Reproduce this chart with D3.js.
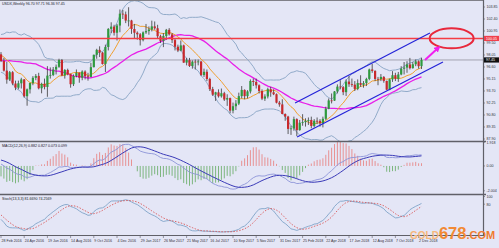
<!DOCTYPE html>
<html>
<head>
<meta charset="utf-8">
<script src="https://cdn.jsdelivr.net/npm/d3@7"></script>
<style>
body { margin: 0; background: #e4e6f6; }
svg { display: block; font-family: "Liberation Sans", Arial, sans-serif; }
</style>
</head>
<body>
<div id="chart"></div>
<script>
// Dimensions of the chart.
var width = 499;
var height = 248;
var plotRight = 483;

// Weekly USDX closes before the first visible bar (only used to warm up indicators).
var priorCloses = [96.0, 96.0, 97.9, 97.2, 97.3, 97.6, 96.6, 94.9, 95.9, 96.2, 95.2, 95.0, 96.1, 96.1,
  95.3, 94.7, 96.9, 96.9, 99.3, 99.0, 99.6, 100.0, 98.4, 97.6, 99.0, 97.9, 98.6, 98.5, 99.0, 99.6,
  99.6, 97.0, 96.0, 96.6, 98.13];

// Visible weekly bars, week of 28 Feb 2016 to week of 9 Dec 2018.
var closes = [97.33, 96.16, 95.08, 95.97, 94.60, 94.10, 94.63, 95.10, 93.07, 93.90,
  94.66, 95.29, 95.52, 94.03, 94.56, 94.19, 95.56, 95.64, 96.29, 96.62,
  97.44, 95.58, 96.24, 95.72, 94.52, 95.52, 95.90, 95.30, 96.05, 95.48,
  95.40, 96.58, 98.07, 98.67, 98.34, 96.96, 99.02, 101.20, 101.48, 100.74,
  101.61, 103.04, 102.96, 102.21, 102.22, 101.19, 100.74, 100.55, 99.85, 100.78,
  100.94, 101.13, 101.51, 101.28, 100.32, 99.75, 100.35, 101.09, 100.54, 99.85,
  99.05, 98.59, 99.21, 97.13, 97.43, 96.72, 97.25, 97.17, 97.27, 95.63,
  96.02, 95.15, 93.93, 93.26, 93.54, 93.06, 93.43, 92.67, 92.84, 91.33,
  91.86, 92.18, 93.08, 93.83, 93.08, 93.65, 94.91, 94.79, 94.39, 93.70,
  92.78, 93.04, 93.91, 93.54, 93.31, 92.29, 92.08, 90.92, 90.61, 89.12,
  89.18, 90.30, 88.97, 89.87, 89.94, 90.09, 90.20, 89.48, 90.10, 90.09,
  89.79, 90.34, 91.55, 92.56, 92.54, 93.64, 94.23, 94.16, 93.56, 94.84,
  94.52, 94.47, 93.95, 94.66, 94.44, 94.66, 95.16, 96.30, 96.13, 95.16,
  95.15, 95.40, 94.92, 93.86, 95.11, 95.61, 95.17, 95.70, 96.39, 96.53,
  96.91, 96.46, 96.93, 97.28, 96.70, 97.45];
var highs = [98.40, 97.70, 97.20, 96.12, 96.10, 94.95, 94.95, 95.30, 95.15, 94.00,
  94.70, 95.50, 95.75, 95.90, 94.70, 95.20, 96.70, 96.55, 96.60, 96.90,
  97.60, 97.57, 96.35, 96.40, 95.80, 95.70, 96.30, 95.95, 96.20, 96.20,
  95.90, 97.10, 98.10, 98.80, 99.10, 98.40, 99.30, 101.30, 102.00, 101.70,
  101.80, 103.55, 103.50, 103.30, 103.82, 102.30, 101.80, 100.90, 100.70, 100.90,
  101.80, 101.50, 102.20, 102.10, 101.70, 100.50, 100.70, 101.20, 101.30, 100.70,
  100.10, 99.30, 99.80, 99.30, 97.70, 97.70, 97.40, 97.50, 97.50, 97.30,
  96.40, 96.30, 95.30, 94.20, 93.60, 93.90, 94.00, 93.60, 93.30, 92.90,
  92.30, 92.60, 93.50, 94.30, 93.90, 93.80, 95.10, 95.20, 95.20, 94.50,
  93.90, 93.30, 94.10, 94.20, 93.90, 93.40, 92.50, 92.70, 91.00, 90.70,
  89.50, 90.60, 90.40, 90.20, 90.90, 90.40, 90.50, 90.60, 90.30, 90.50,
  90.30, 90.60, 91.80, 92.80, 93.40, 93.70, 94.50, 95.00, 94.30, 95.10,
  95.50, 95.20, 94.90, 95.10, 95.60, 94.90, 95.30, 96.40, 96.98, 96.20,
  95.40, 95.75, 95.50, 94.95, 95.20, 96.10, 95.90, 96.00, 96.70, 97.20,
  97.30, 97.70, 97.20, 97.50, 97.40, 97.71];
var lows = [97.20, 96.05, 94.58, 94.90, 94.40, 93.80, 93.90, 94.00, 92.90, 91.92,
  93.40, 94.40, 95.00, 93.90, 93.42, 93.90, 93.00, 95.20, 95.50, 95.70,
  96.50, 95.50, 95.20, 95.60, 94.10, 94.30, 95.35, 94.70, 95.00, 95.10,
  94.95, 95.35, 96.55, 97.60, 97.80, 96.90, 96.00, 98.60, 100.70, 100.40,
  99.80, 100.80, 102.40, 101.90, 101.50, 100.60, 100.10, 99.90, 99.20, 99.70,
  100.60, 100.50, 100.90, 101.10, 100.00, 99.50, 99.00, 99.90, 100.40, 99.50,
  98.60, 98.40, 98.50, 97.10, 96.80, 96.60, 96.40, 96.30, 96.80, 95.50,
  95.40, 94.90, 93.70, 93.10, 92.50, 92.90, 92.90, 92.50, 91.90, 91.00,
  91.00, 91.40, 92.00, 92.80, 92.70, 92.80, 93.40, 94.30, 94.00, 93.40,
  92.60, 92.50, 92.80, 93.00, 93.20, 92.20, 91.80, 90.90, 90.10, 88.50,
  88.40, 88.90, 88.25, 88.90, 89.50, 89.40, 89.60, 89.20, 89.30, 89.70,
  89.40, 89.30, 90.20, 91.50, 92.20, 92.50, 93.40, 93.90, 93.20, 93.10,
  94.20, 94.20, 93.70, 93.80, 94.20, 94.10, 94.30, 95.00, 95.90, 94.90,
  94.40, 94.90, 94.70, 93.80, 93.80, 94.80, 94.90, 94.80, 95.60, 95.70,
  95.90, 96.30, 96.40, 96.70, 96.40, 96.36];
var firstOpen = 98.13;

// Axis labels.
var dateLabels = ["28 Feb 2016", "24 Apr 2016", "19 Jun 2016", "14 Aug 2016", "9 Oct 2016",
  "4 Dec 2016", "29 Jan 2017", "26 Mar 2017", "21 May 2017", "16 Jul 2017", "10 Sep 2017",
  "5 Nov 2017", "31 Dec 2017", "25 Feb 2018", "22 Apr 2018", "17 Jun 2018", "12 Aug 2018",
  "7 Oct 2018", "2 Dec 2018"];
var dateWeeks = [0, 8, 16, 24, 32, 40, 48, 56, 64, 72, 80, 88, 96, 104, 112, 120, 128, 136, 144];
var priceTicks = [87.90, 89.35, 90.80, 92.25, 93.70, 95.15, 96.60, 98.05, 99.50, 100.95, 102.40, 103.85];
var macdTicks = [1.918, 0, -2.004];
var macdTickLabels = ["1.918", "0.00", "-2.004"];
var stochTicks = [100, 80];

// Drawn objects: resistance level, channel, target ellipse, arrow (week index, price).
var resistance = 100.05;
var lastPrice = 97.45;
var channelUpper = [[101.4, 92.25], [147.9, 100.70]];
var channelLower = [[102.1, 88.14], [152.4, 97.20]];
var target = [155.4, 100.06];
var arrowPts = [[146.2, 97.44], [150.7, 98.89]];

var mainTitle = "USDX,Weekly  96.70 97.71 96.36 97.45";
var macdTitle = "MACD(12,26,9) 0.882 0.827 0.073 0.099";
var stochTitle = "Stoch(13,3,3) 81.6690 74.2569";

// Panels (top, bottom) in pixels.
var pMain = [0, 141];
var pMacd = [142, 194];
var pStoch = [195, 235];

var svg = d3.select("#chart").append("svg")
    .attr("width", width)
    .attr("height", height);

svg.append("rect").attr("width", width).attr("height", height).attr("fill", "#e4e6f6");

var x = d3.scaleLinear().domain([0, 145]).range([1, 421.5]);
var yMain = d3.scaleLinear().domain([87.90, 103.85]).range([139, 7]);
var yMacd = d3.scaleLinear().domain([-2.004, 1.918]).range([190.8, 142.2]);
var yStoch = d3.scaleLinear().domain([0, 100]).range([235, 196.5]);

// Clip rectangles for each panel.
var defs = svg.append("defs");
[["cMain", pMain], ["cMacd", pMacd], ["cStoch", pStoch]].forEach(function(c) {
  defs.append("clipPath").attr("id", c[0]).append("rect")
      .attr("x", 0).attr("y", c[1][0]).attr("width", plotRight).attr("height", c[1][1] - c[1][0]);
});
defs.append("marker").attr("id", "arrowhead")
    .attr("viewBox", "0 0 10 10").attr("refX", 5).attr("refY", 5)
    .attr("markerWidth", 3.2).attr("markerHeight", 3.2).attr("orient", "auto")
  .append("path").attr("d", "M0,0L10,5L0,10z").attr("fill", "#f020f0");

//------- INDICATORS --------//
var off = priorCloses.length;
var allClose = priorCloses.concat(closes);
var allHigh = priorCloses.concat(highs);
var allLow = priorCloses.concat(lows);

function sma(arr, n) {
  return arr.map(function(d, i) {
    if (i < n - 1 || arr[i - n + 1] == null) return null;
    return d3.mean(arr.slice(i - n + 1, i + 1));
  });
}
function ema(arr, n) {
  var k = 2 / (n + 1), out = [];
  arr.forEach(function(d, i) { out.push(i === 0 ? d : d * k + out[i - 1] * (1 - k)); });
  return out;
}

var mid20 = sma(allClose, 20);
var bbUp = [], bbDn = [];
allClose.forEach(function(d, i) {
  if (mid20[i] == null) { bbUp.push(null); bbDn.push(null); return; }
  var s = allClose.slice(i - 19, i + 1);
  var m = mid20[i];
  var sd = Math.sqrt(d3.mean(s, function(v) { return (v - m) * (v - m); }));
  bbUp.push(m + 2 * sd);
  bbDn.push(m - 2 * sd);
});
var ma10 = sma(allClose, 10);
var ma30 = sma(allClose, 30);

var e12 = ema(allClose, 12), e26 = ema(allClose, 26);
var macd = e12.map(function(d, i) { return d - e26[i]; });
var macdSig = sma(macd, 9);
var macdHist = macd.map(function(d, i) { return macdSig[i] == null ? null : 2.6 * (d - macdSig[i]); });

// Stochastic: 13-bar range, heavy slowing, dotted signal.
var kPeriod = 13, slowing = 8, dPeriod = 5;
var rawNum = [], rawDen = [];
allClose.forEach(function(c, i) {
  var lo = i < kPeriod - 1 ? 0 : i - kPeriod + 1;
  var hh = d3.max(allHigh.slice(lo, i + 1)), ll = d3.min(allLow.slice(lo, i + 1));
  rawNum.push(c - ll); rawDen.push(hh - ll);
});
var stochK = rawNum.map(function(d, i) {
  if (i < slowing - 1) return null;
  var n = d3.sum(rawNum.slice(i - slowing + 1, i + 1)), dd = d3.sum(rawDen.slice(i - slowing + 1, i + 1));
  return dd === 0 ? 100 : 100 * n / dd;
});
var stochD = sma(stochK, dPeriod);

// Visible part of a series as {i, v}.
function visible(arr) {
  return closes.map(function(c, i) { return {i: i, v: arr[off + i]}; });
}
function lineFor(y) {
  return d3.line().defined(function(d) { return d.v != null; })
      .x(function(d) { return x(d.i); }).y(function(d) { return y(d.v); });
}

//------- MAIN PANEL --------//
var gMain = svg.append("g").attr("clip-path", "url(#cMain)");

// Current price line.
gMain.append("line").attr("x1", 0).attr("x2", plotRight)
    .attr("y1", yMain(lastPrice)).attr("y2", yMain(lastPrice))
    .attr("stroke", "#a4a4b0").attr("stroke-width", 1);

[bbUp, bbDn].forEach(function(s) {
  gMain.append("path").datum(visible(s)).attr("d", lineFor(yMain))
      .attr("fill", "none").attr("stroke", "#88a4c4").attr("stroke-width", 0.9);
});
gMain.append("path").datum(visible(ma30)).attr("d", lineFor(yMain))
    .attr("fill", "none").attr("stroke", "#e81ee8").attr("stroke-width", 1.3);
gMain.append("path").datum(visible(ma10)).attr("d", lineFor(yMain))
    .attr("fill", "none").attr("stroke", "#f0a030").attr("stroke-width", 1);

// Candles.
var bars = closes.map(function(c, i) {
  return {i: i, o: i === 0 ? firstOpen : closes[i - 1], h: highs[i], l: lows[i], c: c};
});
var candle = gMain.selectAll("g.candle").data(bars).enter().append("g").attr("class", "candle");
candle.append("line")
    .attr("x1", function(d) { return x(d.i); }).attr("x2", function(d) { return x(d.i); })
    .attr("y1", function(d) { return yMain(d.h); }).attr("y2", function(d) { return yMain(d.l); })
    .attr("stroke", "#3a3a3a").attr("stroke-width", 0.8);
candle.append("rect")
    .attr("x", function(d) { return x(d.i) - 1.1; })
    .attr("width", 2.2)
    .attr("y", function(d) { return yMain(Math.max(d.o, d.c)); })
    .attr("height", function(d) { return Math.max(0.8, Math.abs(yMain(d.o) - yMain(d.c))); })
    .attr("fill", function(d) { return d.c >= d.o ? "#2e9a3e" : "#c8282c"; });

// Resistance line.
gMain.append("line").attr("x1", 0).attr("x2", plotRight)
    .attr("y1", yMain(resistance)).attr("y2", yMain(resistance))
    .attr("stroke", "#f43c44").attr("stroke-width", 1.6);

// Channel.
[channelUpper, channelLower].forEach(function(c) {
  gMain.append("line")
      .attr("x1", x(c[0][0])).attr("y1", yMain(c[0][1]))
      .attr("x2", x(c[1][0])).attr("y2", yMain(c[1][1]))
      .attr("stroke", "#2424d8").attr("stroke-width", 1.2);
});

// Target ellipse and arrow.
gMain.append("ellipse").attr("cx", x(target[0])).attr("cy", yMain(target[1]))
    .attr("rx", 22).attr("ry", 10)
    .attr("fill", "none").attr("stroke", "#e8283c").attr("stroke-width", 2);
gMain.append("line")
    .attr("x1", x(arrowPts[0][0])).attr("y1", yMain(arrowPts[0][1]))
    .attr("x2", x(arrowPts[1][0])).attr("y2", yMain(arrowPts[1][1]))
    .attr("stroke", "#f020f0").attr("stroke-width", 2).attr("marker-end", "url(#arrowhead)");

//------- MACD PANEL --------//
var gMacd = svg.append("g").attr("clip-path", "url(#cMacd)");
gMacd.selectAll("line.hist").data(visible(macdHist)).enter().append("line")
    .attr("class", "hist")
    .attr("x1", function(d) { return x(d.i); }).attr("x2", function(d) { return x(d.i); })
    .attr("y1", yMacd(0)).attr("y2", function(d) { return yMacd(d.v); })
    .attr("stroke", function(d) { return d.v >= 0 ? "#e88888" : "#70b070"; })
    .attr("stroke-width", 0.9);
gMacd.append("path").datum(visible(macd)).attr("d", lineFor(yMacd))
    .attr("fill", "none").attr("stroke", "#8c94d8").attr("stroke-width", 0.9);
gMacd.append("path").datum(visible(macdSig)).attr("d", lineFor(yMacd))
    .attr("fill", "none").attr("stroke", "#3a3ab8").attr("stroke-width", 1);

//------- STOCH PANEL --------//
var gStoch = svg.append("g").attr("clip-path", "url(#cStoch)");
gStoch.append("path").datum(visible(stochK)).attr("d", lineFor(yStoch))
    .attr("fill", "none").attr("stroke", "#80a4c8").attr("stroke-width", 0.9);
gStoch.append("path").datum(visible(stochD)).attr("d", lineFor(yStoch))
    .attr("fill", "none").attr("stroke", "#d84848").attr("stroke-width", 0.8)
    .attr("stroke-dasharray", "1.5,1.5");

//------- FRAME AND AXES --------//
svg.append("line").attr("x1", 0).attr("x2", plotRight).attr("y1", 0.5).attr("y2", 0.5)
    .attr("stroke", "#808088").attr("stroke-width", 1);
[141.5, 194.5].forEach(function(yy) {
  svg.append("line").attr("x1", 0).attr("x2", plotRight + 3).attr("y1", yy).attr("y2", yy)
      .attr("stroke", "#606068").attr("stroke-width", 1.6);
});
svg.append("line").attr("x1", 0).attr("x2", plotRight).attr("y1", 235.5).attr("y2", 235.5)
    .attr("stroke", "#606068").attr("stroke-width", 1.2);
svg.append("line").attr("x1", plotRight + 0.5).attr("x2", plotRight + 0.5).attr("y1", 0).attr("y2", 236)
    .attr("stroke", "#606068").attr("stroke-width", 1.2);

var fs = 3.6;
function rightLabel(yy, txt) {
  svg.append("line").attr("x1", plotRight).attr("x2", plotRight + 2).attr("y1", yy).attr("y2", yy)
      .attr("stroke", "#606068").attr("stroke-width", 0.6);
  svg.append("text").attr("x", plotRight + 3.5).attr("y", yy + 1.3)
      .attr("font-size", fs).attr("fill", "#303038").text(txt);
}
priceTicks.forEach(function(p) { rightLabel(yMain(p), p.toFixed(2)); });
macdTicks.forEach(function(v, i) { rightLabel(yMacd(v), macdTickLabels[i]); });
stochTicks.forEach(function(v) { rightLabel(yStoch(v), String(v)); });

// Price boxes on the axis.
function priceBox(p, fill, txt) {
  var yy = yMain(p);
  svg.append("rect").attr("x", plotRight + 1).attr("y", yy - 2.6).attr("width", 15).attr("height", 5.2)
      .attr("fill", fill);
  svg.append("text").attr("x", plotRight + 3).attr("y", yy + 1.3)
      .attr("font-size", fs).attr("fill", "#ffffff").text(txt);
}
priceBox(resistance, "#f0404c", resistance.toFixed(2));
priceBox(lastPrice, "#101010", lastPrice.toFixed(2));

// Date labels.
dateWeeks.forEach(function(w, i) {
  var xx = x(w);
  svg.append("line").attr("x1", xx).attr("x2", xx).attr("y1", 235.5).attr("y2", 238)
      .attr("stroke", "#606068").attr("stroke-width", 0.6);
  svg.append("text").attr("x", xx + 0.5).attr("y", 242)
      .attr("font-size", fs).attr("fill", "#303038").text(dateLabels[i]);
});

// Panel titles.
svg.append("text").attr("x", 2).attr("y", 5).attr("font-size", fs).attr("fill", "#202028").text(mainTitle);
svg.append("text").attr("x", 2).attr("y", 146.5).attr("font-size", fs).attr("fill", "#202028").text(macdTitle);
svg.append("text").attr("x", 2).attr("y", 199.5).attr("font-size", fs).attr("fill", "#202028").text(stochTitle);

// Watermark.
var wm = svg.append("text").attr("x", 410).attr("y", 238.5)
    .attr("font-family", "'Liberation Sans', Arial, sans-serif").attr("font-weight", "bold");
wm.append("tspan").attr("font-size", 10).attr("fill", "#f6b77a").text("GOLD");
wm.append("tspan").attr("font-size", 16.5).attr("fill", "#f28a34").text("678");
wm.append("tspan").attr("font-size", 11).attr("fill", "#f07c30").text(".COM");
</script>
</body>
</html>
